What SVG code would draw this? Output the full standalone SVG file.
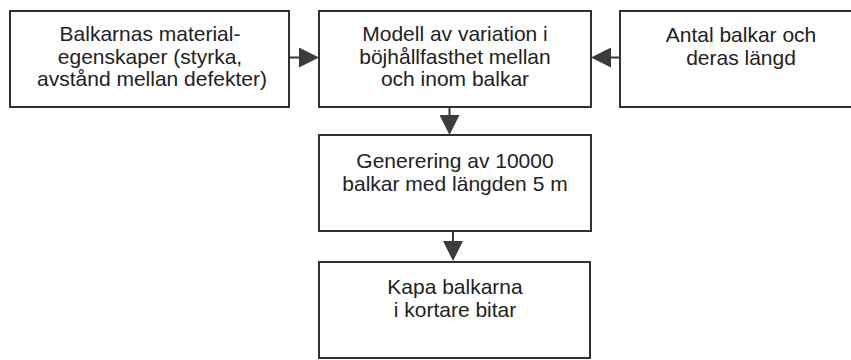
<svg xmlns="http://www.w3.org/2000/svg" width="851" height="360" viewBox="0 0 851 360">
  <style>
    .box { fill: #ffffff; stroke: #2f3133; stroke-width: 2; }
    .lbl { font-family: "Liberation Sans", Arial, sans-serif; font-size: 21px; fill: #222222; text-anchor: middle; }
    .conn { stroke: #333537; stroke-width: 2; fill: none; marker-end: url(#arrow); }
  </style>
  <defs>
    <marker id="arrow" viewBox="0 0 20 20" refX="17" refY="10" markerWidth="20" markerHeight="20" markerUnits="userSpaceOnUse" orient="auto">
      <path d="M0,0 L20,10 L0,20 Z" fill="#3a3d40"/>
    </marker>
  </defs>
  <rect width="851" height="360" fill="#ffffff"/>

  <g id="connectors">
    <line class="conn" x1="289" y1="57.5" x2="316" y2="57.5"/>
    <line class="conn" x1="620" y1="57.5" x2="594" y2="57.5"/>
    <line class="conn" x1="449.5" y1="107" x2="449.5" y2="132"/>
    <line class="conn" x1="453" y1="231" x2="453" y2="258"/>
  </g>

  <g id="node-material">
    <rect class="box" x="10" y="11" width="279" height="96"/>
    <text class="lbl" x="150" y="41">Balkarnas material-</text>
    <text class="lbl" x="150" y="64">egenskaper (styrka,</text>
    <text class="lbl" x="152" y="86">avstånd mellan defekter)</text>
  </g>

  <g id="node-modell">
    <rect class="box" x="319" y="11" width="272" height="96"/>
    <text class="lbl" x="455" y="41">Modell av variation i</text>
    <text class="lbl" x="455" y="64">böjhållfasthet mellan</text>
    <text class="lbl" x="455" y="86">och inom balkar</text>
  </g>

  <g id="node-antal">
    <rect class="box" x="620" y="11" width="244" height="96"/>
    <text class="lbl" x="741" y="42">Antal balkar och</text>
    <text class="lbl" x="741" y="65">deras längd</text>
  </g>

  <g id="node-generering">
    <rect class="box" x="319" y="135" width="272" height="96"/>
    <text class="lbl" x="455" y="168">Generering av 10000</text>
    <text class="lbl" x="455" y="191">balkar med längden 5 m</text>
  </g>

  <g id="node-kapa">
    <rect class="box" x="319" y="262" width="271" height="96"/>
    <text class="lbl" x="455" y="294">Kapa balkarna</text>
    <text class="lbl" x="455" y="317">i kortare bitar</text>
  </g>
</svg>
